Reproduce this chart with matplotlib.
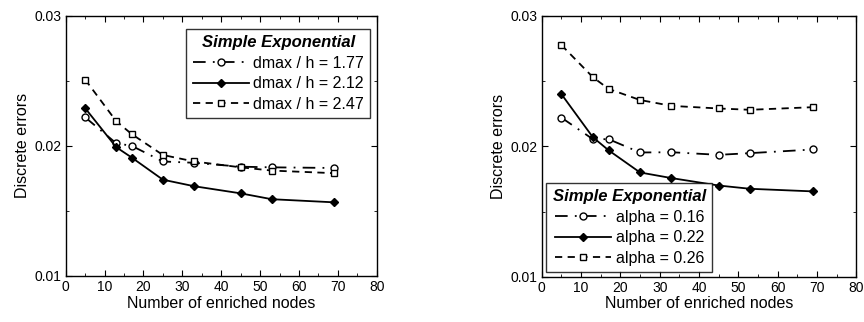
#recreate the two-panel discrete error chart (simple exponential weight)
import matplotlib
matplotlib.use("Agg")
import matplotlib.pyplot as plt
from matplotlib.ticker import MultipleLocator

plt.rcParams["font.family"] = ["Liberation Sans", "DejaVu Sans"]

#number of enriched nodes (same for all curves)
nodes = [5, 13, 17, 25, 33, 45, 53, 69]

#left panel: different dmax / h
dmax_labels = ["dmax / h = 1.77", "dmax / h = 2.12", "dmax / h = 2.47"]
err_dmax_177 = [0.0222, 0.0202, 0.0200, 0.0188, 0.0187, 0.0184, 0.01835, 0.0183]
err_dmax_212 = [0.0229, 0.0199, 0.0191, 0.0174, 0.0169, 0.01635, 0.0159, 0.01566]
err_dmax_247 = [0.0251, 0.0219, 0.0209, 0.0193, 0.0188, 0.01835, 0.0181, 0.0179]

#right panel: different alpha
alpha_labels = ["alpha = 0.16", "alpha = 0.22", "alpha = 0.26"]
err_alpha_016 = [0.0222, 0.02055, 0.02055, 0.01953, 0.01955, 0.01935, 0.01948, 0.01976]
err_alpha_022 = [0.0240, 0.0207, 0.0197, 0.0180, 0.01757, 0.0170, 0.01675, 0.01655]
err_alpha_026 = [0.02776, 0.0253, 0.0244, 0.02355, 0.0231, 0.0229, 0.0228, 0.0230]

#line styles: circle dash-dot, diamond solid, square dashed
styles = [
    dict(ls=(0, (7, 4, 1, 4)), marker="o", mfc="white", ms=5),
    dict(ls="-", marker="D", mfc="black", ms=4),
    dict(ls=(0, (4, 3)), marker="s", mfc="white", ms=5),
]

fig = plt.figure(figsize=(8.64, 3.22), dpi=100)
ax1 = fig.add_axes([0.076, 0.143, 0.36, 0.808])
ax2 = fig.add_axes([0.627, 0.140, 0.364, 0.811])


def draw(ax, series, labels, legend_loc, anchor):
    for ys, lab, st in zip(series, labels, styles):
        ax.plot(nodes, ys, color="black", lw=1.3, mec="black", mew=1.0,
                label=lab, **st)
    ax.set_xlim(0, 80)
    ax.set_ylim(0.01, 0.03)
    ax.xaxis.set_major_locator(MultipleLocator(10))
    ax.xaxis.set_minor_locator(MultipleLocator(5))
    ax.yaxis.set_major_locator(MultipleLocator(0.01))
    ax.yaxis.set_minor_locator(MultipleLocator(0.005))
    ax.tick_params(which="both", direction="in", top=True, right=True,
                   labelsize=10, pad=3)
    ax.tick_params(which="major", length=4)
    ax.tick_params(which="minor", length=2)
    for s in ax.spines.values():
        s.set_linewidth(1.0)
    ax.set_xlabel("Number of enriched nodes", fontsize=11.5, labelpad=1)
    ax.set_ylabel("Discrete errors", fontsize=11.5, labelpad=3)
    leg = ax.legend(loc=legend_loc, bbox_to_anchor=anchor, fontsize=11.5,
                    title="Simple Exponential", frameon=True, fancybox=False,
                    edgecolor="black", handlelength=3.5, borderpad=0.4,
                    labelspacing=0.35, handletextpad=0.3, borderaxespad=0)
    leg.get_title().set_fontweight("bold")
    leg.get_title().set_fontstyle("italic")
    leg.get_title().set_fontsize(12)
    leg.get_frame().set_linewidth(1.0)


draw(ax1, [err_dmax_177, err_dmax_212, err_dmax_247], dmax_labels,
     "upper right", (0.98, 0.95))
draw(ax2, [err_alpha_016, err_alpha_022, err_alpha_026], alpha_labels,
     "lower left", (0.015, 0.018))

plt.savefig("out.png", dpi=100)
plt.close()
